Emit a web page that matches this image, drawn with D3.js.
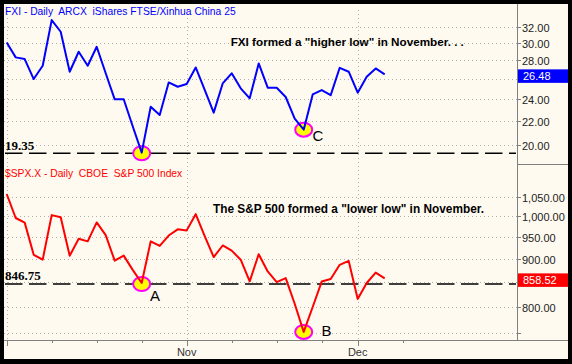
<!DOCTYPE html>
<html><head><meta charset="utf-8">
<script src="https://cdn.jsdelivr.net/npm/d3@7"></script>
<style>html,body{margin:0;padding:0;background:#000;} svg{display:block}</style>
</head><body><svg id="c" width="572" height="364"></svg>
<script>
// ---- data ----
const days = ["2008-10-06","2008-10-07","2008-10-08","2008-10-09","2008-10-10",
  "2008-10-13","2008-10-14","2008-10-15","2008-10-16","2008-10-17",
  "2008-10-20","2008-10-21","2008-10-22","2008-10-23","2008-10-24",
  "2008-10-27","2008-10-28","2008-10-29","2008-10-30","2008-10-31",
  "2008-11-03","2008-11-04","2008-11-05","2008-11-06","2008-11-07",
  "2008-11-10","2008-11-11","2008-11-12","2008-11-13","2008-11-14",
  "2008-11-17","2008-11-18","2008-11-19","2008-11-20","2008-11-21",
  "2008-11-24","2008-11-25","2008-11-26","2008-11-28",
  "2008-12-01","2008-12-02","2008-12-03","2008-12-04"];
const fxi = [30.07,28.33,28.14,25.99,27.40,32.86,31.37,26.76,28.97,27.40,
  29.55,26.6,23.98,23.98,21.54,19.4,23.28,22.53,25.64,25.21,
  25.48,27.22,24.9,22.74,25.54,26.59,25.05,24.07,27.66,25.11,
  25.11,24.2,22.2,21.25,24.45,24.88,24.38,27.18,26.76,24.62,
  26.22,27.11,26.48];
const spx = [1056.89,996.23,984.94,909.92,899.22,1003.35,998.01,907.84,946.43,940.55,
  985.40,955.05,896.78,908.11,876.77,848.92,940.51,930.09,954.09,968.75,
  966.30,1005.75,952.77,904.88,930.99,919.21,898.95,852.30,911.29,873.29,
  850.75,859.12,806.58,752.44,800.03,851.81,857.39,887.68,896.24,816.21,
  848.81,870.74,858.52];
const fxiTicks = [20,22,24,26,28,30,32];
const fxiLabelled = [20,22,24,28,30,32];
const spxTicks = [750,800,850,900,950,1000,1050];
const spxLabelled = [800,900,950,1000,1050];
const weekTicks = [0,5,10,15,20,25,30,35,39,44];
const monthTicks = [0,20,39];
const monthLabels = [{i:20,t:"Nov"},{i:39,t:"Dec"}];
const fxiSupport = 19.35, spxSupport = 846.75;
const marks = [
  {panel:"f", i:15, v:19.35, label:null},
  {panel:"f", i:33, v:21.25, label:"C"},
  {panel:"s", i:15, v:846.75, label:"A"},
  {panel:"s", i:33, v:752.44, label:"B"}];
const fxiTitle = "FXI - Daily  ARCX  iShares FTSE/Xinhua China 25";
const spxTitle = "$SPX.X - Daily  CBOE  S&P 500 Index";
const fxiNote = "FXI formed a \"higher low\" in November. . .";
const spxNote = "The S&P 500 formed a \"lower low\" in November.";

// ---- drawing ----
const svg = d3.select("#c");
const L = 4, R = 568, AX = 517, T = 4, MID = 164, BOT = 340;
const cream = "#fffaf0";

svg.append("rect").attr("width",572).attr("height",364).attr("fill","#000");
svg.append("rect").attr("x",L).attr("y",T).attr("width",R-L).attr("height",359-T).attr("fill",cream);

const x = d3.scaleLinear().domain([0,42]).range([6.7,384.7]);
const yF = d3.scaleLog().domain([18.54,35.03]).range([MID,T]);
const yS = d3.scaleLog().domain([737.6,1138]).range([BOT,MID]);

const grid = svg.append("g").attr("stroke","#b0b0b0").attr("stroke-width",1).attr("stroke-dasharray","1,3");
fxiTicks.forEach(v=>grid.append("line").attr("x1",L).attr("x2",AX).attr("y1",Math.round(yF(v))+0.5).attr("y2",Math.round(yF(v))+0.5));
spxTicks.forEach(v=>grid.append("line").attr("x1",L).attr("x2",AX).attr("y1",Math.round(yS(v))+0.5).attr("y2",Math.round(yS(v))+0.5));
monthTicks.forEach(i=>grid.append("line").attr("x1",Math.round(x(i))+0.5).attr("x2",Math.round(x(i))+0.5).attr("y1",T+6).attr("y2",BOT));

// support dashed lines
[yF(fxiSupport), yS(spxSupport)].forEach(yy=>{
  svg.append("line").attr("x1",5).attr("x2",AX-1).attr("y1",yy).attr("y2",yy)
    .attr("stroke","#000").attr("stroke-width",1.5).attr("stroke-dasharray","17.5,6.5");
});

// axes
const axc = "#808080";
svg.append("line").attr("x1",AX+0.5).attr("x2",AX+0.5).attr("y1",T).attr("y2",BOT).attr("stroke",axc);
svg.append("line").attr("x1",AX).attr("x2",R).attr("y1",MID+0.5).attr("y2",MID+0.5).attr("stroke",axc);
svg.append("line").attr("x1",L).attr("x2",R).attr("y1",BOT+0.5).attr("y2",BOT+0.5).attr("stroke",axc);
weekTicks.forEach(i=>{
  const big = monthTicks.includes(i);
  svg.append("line").attr("x1",Math.round(x(i))+0.5).attr("x2",Math.round(x(i))+0.5)
    .attr("y1",BOT).attr("y2",BOT+(big?6:3)).attr("stroke",axc);
});
svg.selectAll("text.m").data(monthLabels).join("text").attr("class","m")
  .attr("x",d=>x(d.i)).attr("y",356).attr("text-anchor","middle")
  .attr("font-family","Liberation Sans, Arial, sans-serif").attr("font-size",11).attr("fill","#333").text(d=>d.t);

function rightTicks(scale, ticks, labelled, fmt){
  ticks.forEach(v=>{
    const yy = Math.round(scale(v))+0.5;
    svg.append("line").attr("x1",AX).attr("x2",AX+4).attr("y1",yy).attr("y2",yy).attr("stroke",axc);
    if(labelled.includes(v))
      svg.append("text").attr("x",AX+5).attr("y",yy+4).attr("font-family","Liberation Sans, Arial, sans-serif")
        .attr("font-size",11).attr("fill","#222").text(fmt(v));
  });
}
rightTicks(yF, fxiTicks, fxiLabelled, d3.format(".2f"));
rightTicks(yS, spxTicks, spxLabelled, d3.format(",.2f"));

// circles on lows
marks.forEach(m=>{
  const sc = m.panel==="f"?yF:yS;
  svg.append("ellipse").attr("cx",x(m.i)).attr("cy",sc(m.v)).attr("rx",8.5).attr("ry",7)
    .attr("fill","#ffff00").attr("stroke","#ff00ff").attr("stroke-width",2);
});

// lines
const lineF = d3.line().x((d,i)=>x(i)).y(d=>yF(d));
const lineS = d3.line().x((d,i)=>x(i)).y(d=>yS(d));
svg.append("path").attr("d",lineF(fxi)).attr("fill","none").attr("stroke","#0000ff").attr("stroke-width",2).attr("stroke-linejoin","round");
svg.append("path").attr("d",lineS(spx)).attr("fill","none").attr("stroke","#ff0000").attr("stroke-width",2).attr("stroke-linejoin","round");

const letterPos = {A:[150,301],B:[321.5,335.5],C:[312.5,141]};
marks.filter(m=>m.label).forEach(m=>{
  svg.append("text").attr("x",letterPos[m.label][0]).attr("y",letterPos[m.label][1])
    .attr("font-family","Liberation Sans, Arial, sans-serif").attr("font-size",15).attr("fill","#000").text(m.label);
});

// support labels
svg.append("text").attr("x",5).attr("y",150).attr("font-family","Liberation Serif, Times New Roman, serif")
  .attr("font-weight","bold").attr("font-size",13).attr("fill","#000").text(d3.format(".2f")(fxiSupport));
svg.append("text").attr("x",5).attr("y",280).attr("font-family","Liberation Serif, Times New Roman, serif")
  .attr("font-weight","bold").attr("font-size",13).attr("fill","#000").text(d3.format(".2f")(spxSupport));

// titles
svg.append("text").attr("x",5).attr("y",15).attr("font-family","Liberation Sans, Arial, sans-serif")
  .attr("font-size",10.3).attr("fill","#0000ff").style("white-space","pre").text(fxiTitle);
svg.append("text").attr("x",5).attr("y",176.7).attr("font-family","Liberation Sans, Arial, sans-serif")
  .attr("font-size",10.3).attr("fill","#ff0000").style("white-space","pre").text(spxTitle);
svg.append("text").attr("x",230.7).attr("y",46).attr("font-family","Liberation Sans, Arial, sans-serif")
  .attr("font-weight","bold").attr("font-size",11.7).attr("fill","#000").text(fxiNote);
svg.append("text").attr("x",213).attr("y",212.7).attr("font-family","Liberation Sans, Arial, sans-serif")
  .attr("font-weight","bold").attr("font-size",11.85).attr("fill","#000").text(spxNote);

// last value boxes
function lastBox(scale, v, color, fmt){
  const yy = scale(v);
  svg.append("rect").attr("x",AX+1).attr("y",yy-5).attr("width",R-AX-1).attr("height",13.5).attr("fill",color);
  svg.append("text").attr("x",AX+6).attr("y",yy+6).attr("font-family","Liberation Sans, Arial, sans-serif")
    .attr("font-size",11).attr("fill","#fff").text(fmt(v));
}
lastBox(yF, fxi[fxi.length-1], "#0000ff", d3.format(".2f"));
lastBox(yS, spx[spx.length-1], "#ff0000", d3.format(",.2f"));
</script>
</body></html>
